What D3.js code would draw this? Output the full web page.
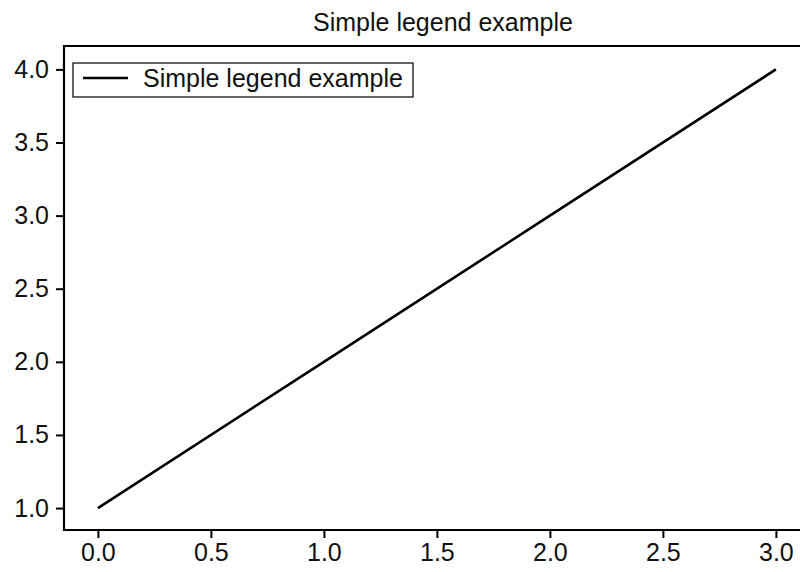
<!DOCTYPE html>
<html>
<head>
<meta charset="utf-8">
<script src="https://cdn.jsdelivr.net/npm/d3@7"></script>
<style>
  html, body { margin: 0; padding: 0; background: #fff; }
  svg { display: block; font-family: "Liberation Sans", Arial, sans-serif; }
</style>
</head>
<body>
<svg id="chart" width="800" height="572"></svg>
<script>
// Data for the single series
const xValues = [0, 1, 2, 3];
const yValues = [1, 2, 3, 4];
const xTicks = [0, 0.5, 1.0, 1.5, 2.0, 2.5, 3.0];
const yTicks = [1.0, 1.5, 2.0, 2.5, 3.0, 3.5, 4.0];
const titleText = "Simple legend example";
const seriesLabel = "Simple legend example";

const svg = d3.select("#chart");

const plotLeft = 64, plotTop = 46, plotBottom = 530;
const x = d3.scaleLinear().domain([-0.15, 3.15]).range([plotLeft, plotLeft + 3.3 * 226]);
const y = d3.scaleLinear().domain([0.85, 4.16]).range([plotBottom, plotTop]);

const fontSize = 25;

// Title
svg.append("text")
  .attr("x", 443).attr("y", 31)
  .attr("text-anchor", "middle")
  .attr("font-size", fontSize)
  .attr("fill", "#111")
  .text(titleText);

// Axes
const xAxis = d3.axisBottom(x).tickValues(xTicks).tickFormat(d3.format(".1f"))
  .tickSize(8).tickPadding(5).tickSizeOuter(0);
const yAxis = d3.axisLeft(y).tickValues(yTicks).tickFormat(d3.format(".1f"))
  .tickSize(8).tickPadding(7).tickSizeOuter(0);

const gx = svg.append("g").attr("transform", `translate(0,${plotBottom})`).call(xAxis);
const gy = svg.append("g").attr("transform", `translate(${plotLeft},0)`).call(yAxis);

[gx, gy].forEach(g => {
  g.select(".domain").remove();
  g.selectAll(".tick line").attr("stroke", "#000").attr("stroke-width", 2);
  g.selectAll(".tick text").attr("font-size", fontSize).attr("fill", "#111")
    .attr("font-family", "'Liberation Sans', Arial, sans-serif");
});

// Plot frame (left, top, bottom; right side runs off the canvas)
const xr = x.range();
svg.append("path")
  .attr("d", `M${xr[1] + 2},${plotTop} H${plotLeft} V${plotBottom} H${xr[1] + 2}`)
  .attr("fill", "none").attr("stroke", "#000").attr("stroke-width", 2.2);

// Series line
const line = d3.line().x((d, i) => x(xValues[i])).y(d => y(d));
svg.append("path")
  .datum(yValues)
  .attr("d", line)
  .attr("fill", "none")
  .attr("stroke", "#000")
  .attr("stroke-width", 2.6);

// Legend
const lg = svg.append("g").attr("transform", "translate(73,63)");
lg.append("rect")
  .attr("x", 0).attr("y", 0).attr("width", 340).attr("height", 34)
  .attr("fill", "#fff").attr("stroke", "#000").attr("stroke-width", 1.2);
lg.append("line")
  .attr("x1", 10).attr("x2", 55).attr("y1", 15).attr("y2", 15)
  .attr("stroke", "#000").attr("stroke-width", 2.6);
lg.append("text")
  .attr("x", 70).attr("y", 24)
  .attr("font-size", fontSize).attr("fill", "#111")
  .text(seriesLabel);
</script>
</body>
</html>
